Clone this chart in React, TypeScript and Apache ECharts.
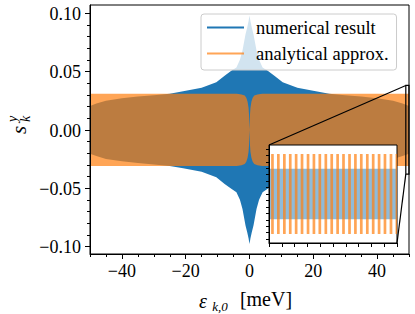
import React, { useEffect, useRef } from "react";
import * as echarts from "echarts";

// ---- axis ticks ----
const xMajorTicks = [-40, -20, 0, 20, 40];
const xTickLabels = ["\u221240", "\u221220", "0", "20", "40"];
const xMinorTicks = [-50, -45, -40, -35, -30, -25, -20, -15, -10, -5, 0, 5, 10, 15, 20, 25, 30, 35, 40, 45, 50];
const yMajorTicks = [-0.1, -0.05, 0, 0.05, 0.1];
const yTickLabels = ["\u22120.10", "\u22120.05", "0.00", "0.05", "0.10"];
const yMinorTicks = [-0.1, -0.09, -0.08, -0.07, -0.06, -0.05, -0.04, -0.03, -0.02, -0.01, 0, 0.01, 0.02, 0.03, 0.04, 0.05, 0.06, 0.07, 0.08, 0.09, 0.1];

// ---- envelope of the numerical result (|eps|, amplitude) ----
const blueEnvX = [0, 0.3, 0.7, 1.25, 2.2, 3, 4.1, 5.7, 7.8, 10.4, 15, 20.8, 25, 30, 35, 40, 45, 48, 50];
const blueEnvY = [0.098, 0.093, 0.088, 0.082, 0.068, 0.06, 0.0535, 0.0506, 0.0464, 0.0407, 0.036, 0.033, 0.031, 0.0297, 0.0285, 0.027, 0.025, 0.0225, 0.0205];

// ---- envelope of the analytical approximation ----
const orangeEnvX = [0, 0.15, 0.3, 0.6, 1, 1.5, 2.5, 4, 10, 50];
const orangeEnvY = [0.0, 0.013, 0.019, 0.024, 0.0275, 0.0293, 0.0303, 0.031, 0.031, 0.031];

// ---- inset (zoom of eps in [49, 50]) ----
const insetRange = [49, 50];
const insetYRange = [-0.038, 0.038];
const insetXTicks = [49, 49.1, 49.2, 49.3, 49.4, 49.5, 49.6, 49.7, 49.8, 49.9, 50];
const insetYTicks = [-0.035, -0.03, -0.025, -0.02, -0.015, -0.01, -0.005, 0, 0.005, 0.01, 0.015, 0.02, 0.025, 0.03, 0.035];
const insetStripeX = [49.027, 49.073, 49.12, 49.166, 49.212, 49.258, 49.305, 49.351, 49.397, 49.444, 49.49, 49.536, 49.582, 49.629, 49.675, 49.721, 49.768, 49.814, 49.86, 49.906, 49.953, 49.999];
const insetOrangeAmp = 0.031;
const insetBlueAmp = 0.0195;

const BLUE = "#1f77b4";
const ORANGE = "#ff7f0e";
const SERIF = "Liberation Serif";

function mirror(xs: number[], ys: number[]) {
  const pts: number[][] = [];
  for (let i = xs.length - 1; i > 0; i--) pts.push([-xs[i], ys[i]]);
  for (let i = 0; i < xs.length; i++) pts.push([xs[i], ys[i]]);
  return pts;
}

// symmetric band polygon (+amp .. -amp) drawn through the axis scales
function bandSeries(name: string | undefined, pts: number[][], xi: number, yi: number, color: string, opacity: number, z: number) {
  return {
    name, type: "custom", xAxisIndex: xi, yAxisIndex: yi, silent: true, z, clip: true,
    itemStyle: { color },
    data: pts,
    encode: { x: 0, y: 1 },
    renderItem: (params: any, api: any) => {
      if (params.dataIndex !== 0) return null;
      const upper = pts.map((p) => api.coord([p[0], p[1]]));
      const lower = pts.slice().reverse().map((p) => api.coord([p[0], -p[1]]));
      return { type: "polygon", shape: { points: upper.concat(lower) }, style: { fill: color, opacity } };
    },
  };
}

export default function App() {
  const ref = useRef<HTMLDivElement>(null);
  useEffect(() => {
    document.body.style.margin = "0";
    const chart = echarts.init(ref.current!, undefined, { renderer: "svg" });
    const black = { color: "#000", width: 1 };
    const mkAxis = (gridIndex: number, min: number, max: number, pos: string, ticks: number[], len: number, line: boolean, z: number) => ({
      type: "value", gridIndex, min, max, position: pos, offset: 0, z,
      axisLine: { show: line, onZero: false, lineStyle: black },
      axisTick: { show: true, inside: false, length: len, customValues: ticks, lineStyle: black },
      axisLabel: { show: false },
      splitLine: { show: false },
    });
    const option: any = {
      animation: false,
      textStyle: { fontFamily: SERIF },
      grid: [
        { left: 90, top: 5, width: 319, height: 249, show: true, borderColor: "#000", borderWidth: 1, backgroundColor: "transparent", z: 5, outerBoundsMode: "none" },
        { left: 269, top: 145, width: 128, height: 98, show: true, borderColor: "#000", borderWidth: 1, backgroundColor: "#fff", z: 10, outerBoundsMode: "none" },
      ],
      xAxis: [
        mkAxis(0, -50, 50, "bottom", xMajorTicks, 5, true, 6),
        mkAxis(0, -50, 50, "bottom", xMinorTicks, 3, false, 6),
        mkAxis(1, insetRange[0], insetRange[1], "bottom", insetXTicks, 4, true, 12),
      ],
      yAxis: [
        mkAxis(0, -0.1065, 0.107, "left", yMajorTicks, 5, true, 6),
        mkAxis(0, -0.1065, 0.107, "left", yMinorTicks, 3, false, 6),
        mkAxis(1, insetYRange[0], insetYRange[1], "left", insetYTicks, 3, true, 12),
      ],
      legend: {
        orient: "vertical", left: 201, top: 14, z: 8,
        padding: [4, 8, 7, 6], itemGap: 7, itemWidth: 37, itemHeight: 2,
        backgroundColor: "rgba(255,255,255,0.8)", borderColor: "#cccccc", borderWidth: 1, borderRadius: 3,
        textStyle: { fontFamily: SERIF, fontSize: 18.5, color: "#000", lineHeight: 18, padding: [0, 0, 0, 7] },
        data: [
          { name: "numerical result", icon: "rect", itemStyle: { color: BLUE, opacity: 1 } },
          { name: "analytical approx.", icon: "rect", itemStyle: { color: "rgba(255,127,14,0.7)", opacity: 1 } },
        ],
      },
      series: [
        bandSeries("numerical result", mirror(blueEnvX, blueEnvY), 0, 0, BLUE, 1, 2),
        bandSeries("analytical approx.", mirror(orangeEnvX, orangeEnvY), 0, 0, ORANGE, 0.7, 3),
        bandSeries(undefined, insetRange.map((x) => [x, insetBlueAmp]), 2, 2, BLUE, 0.5, 11),
        {
          type: "custom", xAxisIndex: 2, yAxisIndex: 2, silent: true, z: 12, clip: true,
          data: insetStripeX.map((x) => [x, insetOrangeAmp]),
          encode: { x: 0, y: 1 },
          renderItem: (params: any, api: any) => {
            const top = api.coord([api.value(0), api.value(1)]);
            const bot = api.coord([api.value(0), -api.value(1)]);
            return { type: "rect", shape: { x: top[0] - 1.35, y: top[1], width: 2.7, height: bot[1] - top[1] }, style: { fill: ORANGE, opacity: 0.7 } };
          },
        },
      ],
    };
    chart.setOption(option);

    const px = (g: number, p: number[]) => chart.convertToPixel({ gridIndex: g }, p) as number[];
    const rTL = px(0, [insetRange[0], insetYRange[1]]);
    const rBR = px(0, [insetRange[1], insetYRange[0]]);
    const iTL = px(1, [insetRange[0], insetYRange[1]]);
    const iBR = px(1, [insetRange[1], insetYRange[0]]);
    const lineStyle = { stroke: "#000", lineWidth: 1.2 };
    const txt = (text: string, x: number, y: number, size: number, italic: boolean, rot = 0, align = "center") => ({
      type: "text", x, y, rotation: rot, z: 20, silent: true,
      style: {
        text,
        font: `${italic ? "italic " : ""}${size}px "${SERIF}", serif`,
        fill: "#000", align, verticalAlign: "middle",
      },
    });
    const bottomY = px(0, [0, -0.1065])[1];
    const leftX = px(0, [-50, 0])[0];
    const tickLabels: any[] = [];
    xMajorTicks.forEach((v, i) => tickLabels.push(txt(xTickLabels[i], px(0, [v, 0])[0], bottomY + 17, 18, false)));
    yMajorTicks.forEach((v, i) => tickLabels.push(txt(yTickLabels[i], leftX - 9, px(0, [0, v])[1] + 1, 18, false, 0, "right")));
    chart.setOption({
      graphic: [
        { type: "rect", z: 20, silent: true, shape: { x: rTL[0], y: rTL[1], width: rBR[0] - rTL[0], height: rBR[1] - rTL[1] }, style: { fill: "none", ...lineStyle } },
        { type: "line", z: 20, silent: true, shape: { x1: iTL[0], y1: iTL[1], x2: rTL[0], y2: rTL[1] }, style: lineStyle },
        { type: "line", z: 20, silent: true, shape: { x1: iBR[0], y1: iBR[1], x2: rTL[0], y2: rBR[1] }, style: lineStyle },
        ...tickLabels,
        txt("\u03b5", 203, 301, 20, true),
        txt("k,0", 220, 306, 13, true),
        txt("[meV]", 266, 299, 20, false),
        txt("s", 19, 130, 21, true, Math.PI / 2),
        txt("y", 12, 119, 14, true, Math.PI / 2),
        txt("k", 25, 119, 14, true, Math.PI / 2),
      ],
    });
    return () => chart.dispose();
  }, []);
  return <div ref={ref} style={{ width: 415, height: 314 }} />;
}
